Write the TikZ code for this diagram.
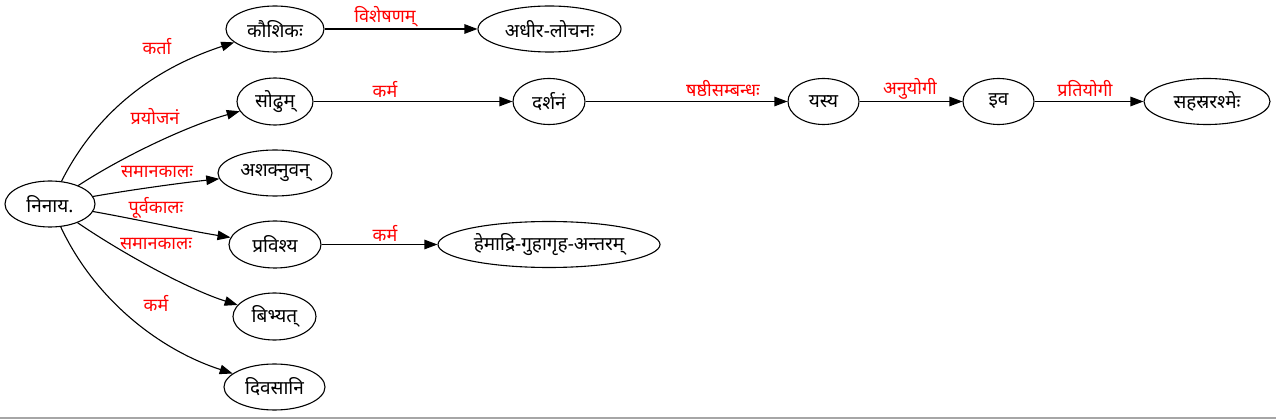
\documentclass[tikz,border=0pt]{standalone}
\usepackage{fontspec}
\setmainfont{Noto Sans}[Script=Devanagari]
\usetikzlibrary{shapes.geometric,arrows.meta}
\begin{document}
\begin{tikzpicture}[x=1pt,y=-1pt,
  word/.style={draw,line width=1.1pt,ellipse,inner sep=0pt,minimum height=46pt,font=\fontsize{19}{20}\selectfont},
  lbl/.style={text=red,inner sep=0pt,font=\fontsize{18}{20}\selectfont},
  edge/.style={draw,line width=1.1pt,-{Triangle[length=13pt,width=9.5pt]}}]
\useasboundingbox (0,0) rectangle (1276,419);
\draw[gray!70,line width=1.5pt] (0,418.2) -- (1276,418.2);
% nodes
\node[word,minimum width=90pt] (n) at (50,204) {\makebox[0pt]{निनाय.}};
\node[word,minimum width=98pt] (k) at (275,29) {\makebox[0pt]{कौशिकः}};
\node[word,minimum width=143pt] (al) at (549.5,29) {\makebox[0pt]{अधीर-लोचनः}};
\node[word,minimum width=76pt,minimum height=47pt] (s) at (275,101.5) {\makebox[0pt]{सोढुम्}};
\node[word,minimum width=72pt] (d) at (549,101.5) {\makebox[0pt]{दर्शनं}};
\node[word,minimum width=71pt] (y) at (823.5,101.5) {\makebox[0pt]{यस्य}};
\node[word,minimum width=71pt] (i) at (998.5,101.5) {\makebox[0pt]{इव}};
\node[word,minimum width=126pt] (sr) at (1207,101.5) {\makebox[0pt]{सहस्ररश्मेः}};
\node[word,minimum width=114pt] (a) at (275,173) {\makebox[0pt]{अशक्नुवन्}};
\node[word,minimum width=92pt,minimum height=47pt] (p) at (275,244.5) {\makebox[0pt]{प्रविश्य}};
\node[word,minimum width=222pt] (h) at (549,244.5) {\makebox[0pt]{हेमाद्रि-गुहागृह-अन्तरम्}};
\node[word,minimum width=83pt,minimum height=47pt] (b) at (274.5,316.5) {\makebox[0pt]{बिभ्यत्}};
\node[word,minimum width=101pt] (dv) at (274.5,387) {\makebox[0pt]{दिवसानि}};
% edges from root
\draw[edge] (n) .. controls (95,115) and (150,70) .. (k);
\draw[edge] (n) .. controls (125,155) and (190,125) .. (s);
\draw[edge] (n) .. controls (130,190) and (180,183) .. (a);
\draw[edge] (n) .. controls (130,218) and (190,231) .. (p);
\draw[edge] (n) .. controls (125,255) and (190,290) .. (b);
\draw[edge] (n) .. controls (95,300) and (160,350) .. (dv);
% chains
\draw[edge] (k) -- (al);
\draw[edge] (s) -- (d);
\draw[edge] (d) -- (y);
\draw[edge] (y) -- (i);
\draw[edge] (i) -- (sr);
\draw[edge] (p) -- (h);
% labels
\node[lbl] (l1) at (157,47) {कर्ता};
\node[lbl] (l2) at (155,117) {प्रयोजनं};
\node[lbl] (l3) at (157,172) {समानकालः};
\node[lbl] (l4) at (156,208) {पूर्वकालः};
\node[lbl] (l5) at (156,244) {समानकालः};
\node[lbl] (l6) at (156,303) {कर्म};
\node[lbl] (l7) at (385,17) {विशेषणम्};
\node[lbl] (l8) at (385,89) {कर्म};
\node[lbl] (l9) at (723,89) {षष्ठीसम्बन्धः};
\node[lbl] (l10) at (910,89) {अनुयोगी};
\node[lbl] (l11) at (1085,89) {प्रतियोगी};
\node[lbl] (l12) at (385,233) {कर्म};
\end{tikzpicture}
\end{document}
